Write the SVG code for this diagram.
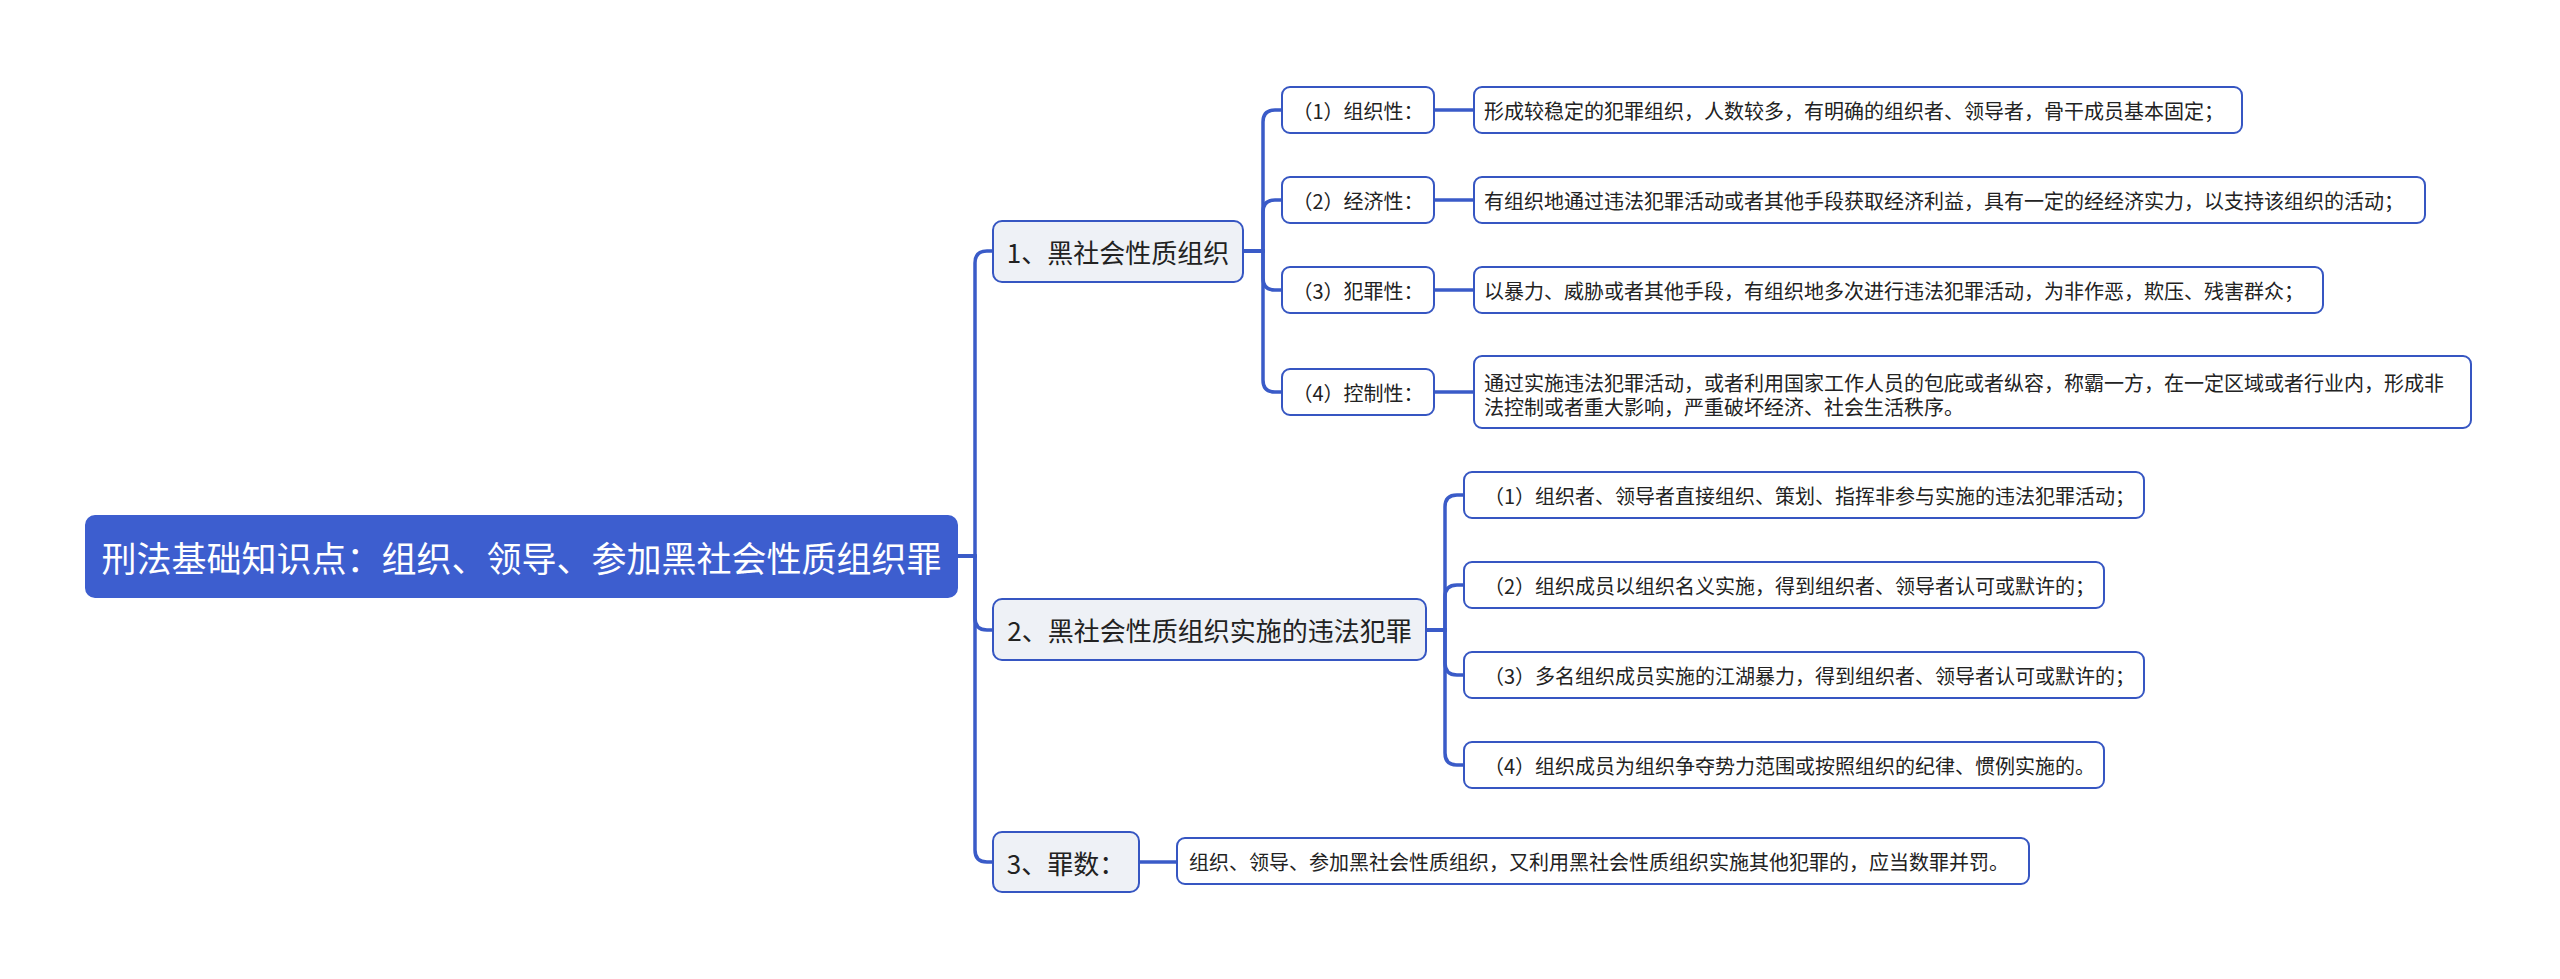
<svg xmlns="http://www.w3.org/2000/svg" width="2560" height="979" viewBox="0 0 2560 979">
<style>
.bg{fill:#ffffff}
.line{fill:none;stroke:#3a5bc8;stroke-width:3.5;stroke-linecap:butt}
.root rect{fill:#3d5ecf;stroke:#3d5ecf;stroke-width:2}
.root text{fill:#ffffff;font-size:35px}
.l1 rect{fill:#eef1f6;stroke:#3656c2;stroke-width:2}
.l1 text{fill:#222222;font-size:26px}
.l2 rect{fill:#ffffff;stroke:#3656c2;stroke-width:2}
.l2 text{fill:#222222;font-size:20px}
text{font-family:"Noto Sans CJK SC","Noto Sans",sans-serif;dominant-baseline:central}
.c{text-anchor:middle}
</style>
<rect class="bg" x="0" y="0" width="2560" height="979"/>
<g id="connectors">
<path class="line" d="M957 556 H975 V263 Q975 251 987 251 H993"/>
<path class="line" d="M957 556 H975 V618 Q975 630 987 630 H993"/>
<path class="line" d="M957 556 H975 V850 Q975 862 987 862 H993"/>
<path class="line" d="M1243 251 H1263 V122 Q1263 110 1275 110 H1282"/>
<path class="line" d="M1243 251 H1263 V212 Q1263 200 1275 200 H1282"/>
<path class="line" d="M1243 251 H1263 V278 Q1263 290 1275 290 H1282"/>
<path class="line" d="M1243 251 H1263 V380 Q1263 392 1275 392 H1282"/>
<path class="line" d="M1434 110 H1474"/>
<path class="line" d="M1434 200 H1474"/>
<path class="line" d="M1434 290 H1474"/>
<path class="line" d="M1434 392 H1474"/>
<path class="line" d="M1426 630 H1445 V507 Q1445 495 1457 495 H1464"/>
<path class="line" d="M1426 630 H1445 V597 Q1445 585 1457 585 H1464"/>
<path class="line" d="M1426 630 H1445 V663 Q1445 675 1457 675 H1464"/>
<path class="line" d="M1426 630 H1445 V753 Q1445 765 1457 765 H1464"/>
<path class="line" d="M1139 862 H1177"/>
</g>
<g id="root" class="root">
<rect x="86" y="516" width="871" height="81" rx="9"/>
<text class="c" x="521.5" y="556">刑法基础知识点：组织、领导、参加黑社会性质组织罪</text>
</g>
<g id="n1" class="l1">
<rect x="993" y="221" width="250" height="61" rx="9"/>
<text class="c" x="1118" y="251.5">1、黑社会性质组织</text>
</g>
<g id="n2" class="l1">
<rect x="993" y="599" width="433" height="61" rx="9"/>
<text class="c" x="1209.5" y="629.5">2、黑社会性质组织实施的违法犯罪</text>
</g>
<g id="n3" class="l1">
<rect x="993" y="832" width="146" height="60" rx="9"/>
<text class="c" x="1066" y="862">3、罪数：</text>
</g>
<g id="n1a" class="l2">
<rect x="1282" y="87" width="152" height="46" rx="8"/>
<text class="c" x="1358" y="110">（1）组织性：</text>
</g>
<g id="n1a-d" class="l2">
<rect x="1474" y="87" width="768" height="46" rx="8"/>
<text x="1484" y="110">形成较稳定的犯罪组织，人数较多，有明确的组织者、领导者，骨干成员基本固定；</text>
</g>
<g id="n1b" class="l2">
<rect x="1282" y="177" width="152" height="46" rx="8"/>
<text class="c" x="1358" y="200">（2）经济性：</text>
</g>
<g id="n1b-d" class="l2">
<rect x="1474" y="177" width="951" height="46" rx="8"/>
<text x="1484" y="200">有组织地通过违法犯罪活动或者其他手段获取经济利益，具有一定的经经济实力，以支持该组织的活动；</text>
</g>
<g id="n1c" class="l2">
<rect x="1282" y="267" width="152" height="46" rx="8"/>
<text class="c" x="1358" y="290">（3）犯罪性：</text>
</g>
<g id="n1c-d" class="l2">
<rect x="1474" y="267" width="849" height="46" rx="8"/>
<text x="1484" y="290">以暴力、威胁或者其他手段，有组织地多次进行违法犯罪活动，为非作恶，欺压、残害群众；</text>
</g>
<g id="n1d" class="l2">
<rect x="1282" y="369" width="152" height="46" rx="8"/>
<text class="c" x="1358" y="392">（4）控制性：</text>
</g>
<g id="n1d-d" class="l2">
<rect x="1474" y="356" width="997" height="72" rx="8"/>
<text x="1484" y="382">通过实施违法犯罪活动，或者利用国家工作人员的包庇或者纵容，称霸一方，在一定区域或者行业内，形成非</text>
<text x="1484" y="406">法控制或者重大影响，严重破坏经济、社会生活秩序。</text>
</g>
<g id="n2a" class="l2">
<rect x="1464" y="472" width="680" height="46" rx="8"/>
<text x="1484" y="495">（1）组织者、领导者直接组织、策划、指挥非参与实施的违法犯罪活动；</text>
</g>
<g id="n2b" class="l2">
<rect x="1464" y="562" width="640" height="46" rx="8"/>
<text x="1484" y="585">（2）组织成员以组织名义实施，得到组织者、领导者认可或默许的；</text>
</g>
<g id="n2c" class="l2">
<rect x="1464" y="652" width="680" height="46" rx="8"/>
<text x="1484" y="675">（3）多名组织成员实施的江湖暴力，得到组织者、领导者认可或默许的；</text>
</g>
<g id="n2d" class="l2">
<rect x="1464" y="742" width="640" height="46" rx="8"/>
<text x="1484" y="765">（4）组织成员为组织争夺势力范围或按照组织的纪律、惯例实施的。</text>
</g>
<g id="n3-d" class="l2">
<rect x="1177" y="838" width="852" height="46" rx="8"/>
<text x="1189" y="861">组织、领导、参加黑社会性质组织，又利用黑社会性质组织实施其他犯罪的，应当数罪并罚。</text>
</g>
</svg>
